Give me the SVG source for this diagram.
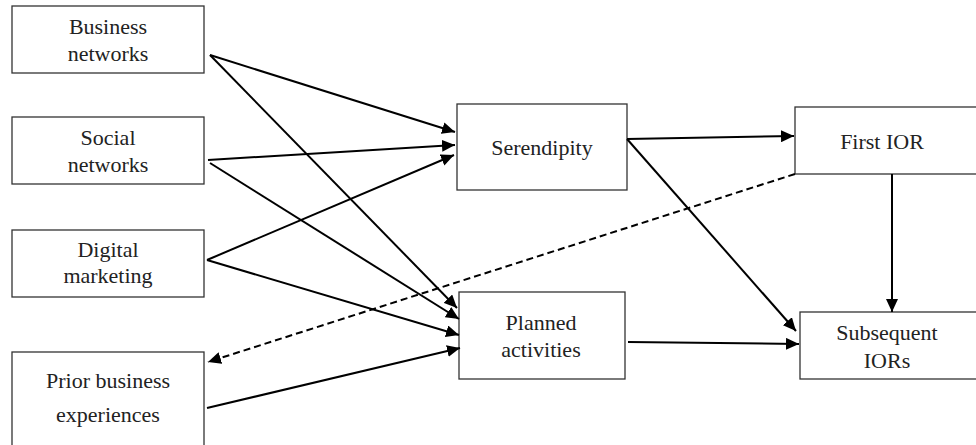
<svg xmlns="http://www.w3.org/2000/svg" width="976" height="445" viewBox="0 0 976 445">
<defs>
<marker id="ah" markerUnits="userSpaceOnUse" markerWidth="14" markerHeight="12" refX="13" refY="6" orient="auto">
<path d="M0,0 L13,6 L0,12 z" fill="#000"/>
</marker>
<style>
.box{fill:#fff;stroke:#333;stroke-width:1.3}
.t{font-size:22px;fill:#222;text-anchor:middle}
.c{stroke:#000;stroke-width:2;fill:none;marker-end:url(#ah)}
.d{stroke-dasharray:7,4}
</style>
</defs>
<rect width="976" height="445" fill="#fff"/>
<g font-family="Liberation Serif, Times New Roman, serif">
<g id="business-networks"><rect class="box" x="12" y="6" width="192" height="67"/><text class="t" x="108" y="34">Business</text><text class="t" x="108" y="61">networks</text></g>
<g id="social-networks"><rect class="box" x="12" y="117" width="192" height="67"/><text class="t" x="108" y="145">Social</text><text class="t" x="108" y="172">networks</text></g>
<g id="digital-marketing"><rect class="box" x="12" y="230" width="192" height="67"/><text class="t" x="108" y="257">Digital</text><text class="t" x="108" y="283">marketing</text></g>
<g id="prior-business-experiences"><rect class="box" x="12" y="352" width="192" height="100"/><text class="t" x="108" y="388">Prior business</text><text class="t" x="108" y="422">experiences</text></g>
<g id="serendipity"><rect class="box" x="457" y="104" width="170" height="86"/><text class="t" x="542" y="155">Serendipity</text></g>
<g id="planned-activities"><rect class="box" x="459" y="292" width="166" height="87"/><text class="t" x="541" y="330">Planned</text><text class="t" x="541" y="357">activities</text></g>
<g id="first-ior"><rect class="box" x="795" y="107" width="190" height="67"/><text class="t" x="882" y="149">First IOR</text></g>
<g id="subsequent-iors"><rect class="box" x="800" y="312" width="190" height="67"/><text class="t" x="887" y="340">Subsequent</text><text class="t" x="887" y="368">IORs</text></g>
</g>
<g id="connectors">
<line class="c" x1="210" y1="55" x2="455" y2="132"/>
<line class="c" x1="210" y1="55" x2="457" y2="308"/>
<line class="c" x1="208" y1="160" x2="455" y2="145"/>
<line class="c" x1="210" y1="163" x2="459" y2="319"/>
<line class="c" x1="207" y1="260" x2="454" y2="155"/>
<line class="c" x1="207" y1="260" x2="459" y2="335"/>
<line class="c" x1="207" y1="408" x2="460" y2="348"/>
<line class="c d" x1="795" y1="174" x2="208" y2="362"/>
<line class="c" x1="627" y1="139" x2="794" y2="136"/>
<line class="c" x1="627" y1="139" x2="796" y2="331"/>
<line class="c" x1="628" y1="342" x2="799" y2="344"/>
<line class="c" x1="892" y1="174" x2="892" y2="312"/>
</g>
</svg>
